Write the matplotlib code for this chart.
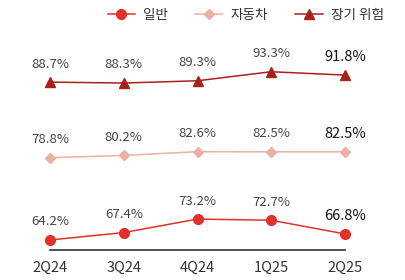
import matplotlib
matplotlib.use("Agg")
import matplotlib.pyplot as plt
from matplotlib.lines import Line2D

plt.rcParams['font.family'] = ['Noto Sans CJK KR', 'DejaVu Sans']

quarters = ["2Q24", "3Q24", "4Q24", "1Q25", "2Q25"]
general = [64.2, 67.4, 73.2, 72.7, 66.8]
auto = [78.8, 80.2, 82.6, 82.5, 82.5]
longterm = [88.7, 88.3, 89.3, 93.3, 91.8]

names = ["일반", "자동차", "장기 위험"]
colors = ["#E0312A", "#EBB0A2", "#A8221C"]
markers = ["o", "D", "^"]
msizes = [7, 5.5, 7]

W, H = 405, 280
fig = plt.figure(figsize=(W / 100, H / 100), dpi=100)

left = 50 / W
width = 295 / W

def make_ax(top_px, bot_px, ylim):
    ax = fig.add_axes([left, (H - bot_px) / H, width, (bot_px - top_px) / H])
    ax.set_xlim(0, len(quarters) - 1)
    ax.set_ylim(*ylim)
    ax.patch.set_alpha(0)
    for s in ax.spines.values():
        s.set_visible(False)
    ax.set_yticks([])
    ax.set_xticks([])
    return ax

ax_top = make_ax(50, 100, (80.8, 102.9))
ax_mid = make_ax(130, 170, (71.0, 96.3))
ax_bot = make_ax(200, 250, (59.9, 81.4))

series = [(ax_bot, general, 0), (ax_mid, auto, 1), (ax_top, longterm, 2)]
x = list(range(len(quarters)))
for ax, vals, i in series:
    ax.plot(x, vals, color=colors[i], lw=1.1, marker=markers[i], ms=msizes[i],
            clip_on=False, zorder=3)
    for j, v in enumerate(vals):
        last = j == len(vals) - 1
        ax.annotate(f"{v:.1f}%", (j, v), xytext=(0, 13), textcoords="offset points",
                    ha="center", va="center",
                    fontsize=10.5 if last else 9.5,
                    color="#111111" if last else "#444444",
                    fontweight="medium" if last else "normal")

ax_bot.spines['bottom'].set_visible(True)
ax_bot.spines['bottom'].set_color("#333333")
ax_bot.spines['bottom'].set_linewidth(1.2)
ax_bot.set_xticks(x)
ax_bot.set_xticklabels(quarters, fontsize=10.5, color="#333333")
ax_bot.tick_params(axis='x', length=0, pad=8)

handles = [Line2D([0], [0], color=colors[i], lw=1.1, marker=markers[i], ms=msizes[i])
           for i in range(3)]
fig.legend(handles, names, loc="center right", bbox_to_anchor=(396 / W, 1 - 15 / H),
           ncol=3, frameon=False, fontsize=9.8, handlelength=2.0, columnspacing=2.0,
           handletextpad=0.6, labelcolor="#333333")

fig.savefig("out.png", dpi=100)
